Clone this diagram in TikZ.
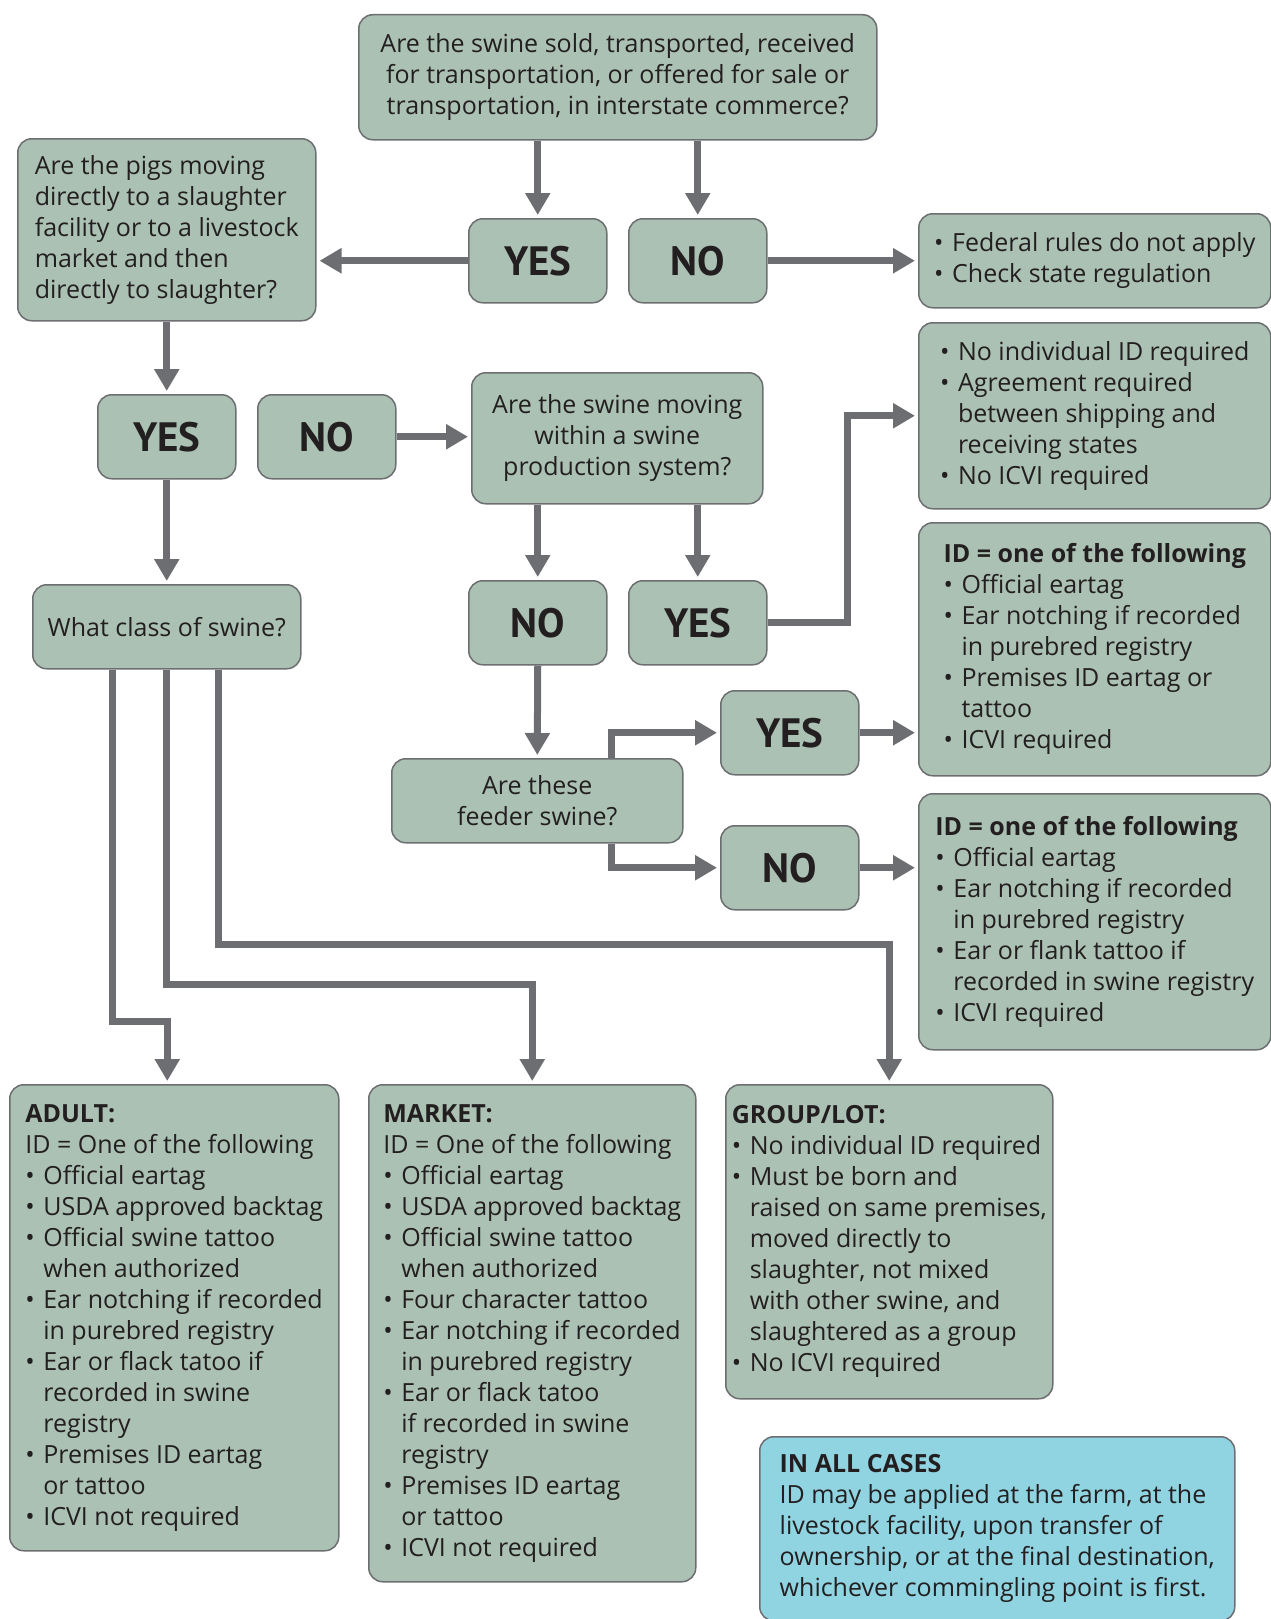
\documentclass[tikz,border=0pt]{standalone}
\usepackage{fontspec}
\setmainfont{Open Sans}
\newfontfamily\answerfont{PT Sans}
\usepackage{tikz}
\usetikzlibrary{arrows.meta,positioning,calc}
\definecolor{Sage}{HTML}{ABC1B4}
\definecolor{Edge}{HTML}{6D6E71}
\definecolor{Cases}{HTML}{90D4E2}
\definecolor{Ink}{HTML}{231F20}
\newcommand\bu{\makebox[18pt][l]{\textbullet}}
\newcommand\ind{\hspace*{18pt}}

\begin{document}
\begin{tikzpicture}[x=1pt, y=-1pt,
  every node/.style={font=\fontsize{25}{31}\selectfont, text=Ink},
  box/.style={fill=Sage, draw=Edge, line width=1.5pt, rounded corners=14pt,
              inner sep=0pt, anchor=north west, align=left},
  answer/.style={box, align=center, font=\answerfont\fontsize{41}{44}\selectfont\bfseries,
                 minimum width=138pt, minimum height=84pt},
  arr/.style={draw=Edge, line width=7pt, -{Triangle[width=24pt,length=22pt]},
              shorten >=3pt}]
  \useasboundingbox (0,0) rectangle (1271,1619);
  % questions
  \node[box, align=center, minimum width=518pt, minimum height=125pt] (top) at (358,14)
    {Are the swine sold, transported, received\\
     for transportation, or offered for sale or\\
     transportation, in interstate commerce?};
  \node[box, minimum width=298pt, minimum height=182pt] (slaughter) at (17,138)
    {Are the pigs moving\\ directly to a slaughter\\ facility or to a livestock\\
     market and then\\ directly to slaughter?};
  \node[box, align=center, minimum width=291pt, minimum height=131pt] (system) at (471,372)
    {Are the swine moving\\ within a swine\\ production system?};
  \node[box, align=center, minimum width=268pt, minimum height=84pt] (class) at (32,584)
    {What class of swine?};
  \node[box, align=center, minimum width=291pt, minimum height=84pt] (feeder) at (391,758)
    {Are these\\ feeder swine?};
  % answers
  \node[answer] (yesA) at (468,218) {YES};
  \node[answer] (noA)  at (628,218) {NO};
  \node[answer] (yesB) at (97,394)  {YES};
  \node[answer] (noB)  at (257,394) {NO};
  \node[answer] (noC)  at (468,580) {NO};
  \node[answer] (yesC) at (628,580) {YES};
  \node[answer] (yesD) at (720,690) {YES};
  \node[answer] (noD)  at (720,825) {NO};
  % outcomes
  \node[box, minimum width=352pt, minimum height=94pt] (federal) at (918,213)
    {\bu Federal rules do not apply\\ \bu Check state regulation};
  \node[box, minimum width=352pt, minimum height=186pt] (agreement) at (918,322)
    {\bu No individual ID required\\ \bu Agreement required\\ \ind between shipping and\\
     \ind receiving states\\ \bu No ICVI required};
  \node[box, minimum width=352pt, minimum height=253pt] (idfeeder) at (918,522)
    {\textbf{ID = one of the following}\\ \bu Official eartag\\ \bu Ear notching if recorded\\
     \ind in purebred registry\\ \bu Premises ID eartag or\\ \ind tattoo\\ \bu ICVI required};
  \node[box, minimum width=352pt, minimum height=256pt] (idother) at (918,793)
    {\textbf{ID = one of the following}\\ \bu Official eartag\\ \bu Ear notching if recorded\\
     \ind in purebred registry\\ \bu Ear or flank tattoo if\\ \ind recorded in swine registry\\
     \bu ICVI required};
  \node[box, minimum width=329pt, minimum height=466pt] (adult) at (9,1084)
    {\textbf{ADULT:}\\ ID = One of the following\\ \bu Official eartag\\ \bu USDA approved backtag\\
     \bu Official swine tattoo\\ \ind when authorized\\ \bu Ear notching if recorded\\
     \ind in purebred registry\\ \bu Ear or flack tatoo if\\ \ind recorded in swine\\
     \ind registry\\ \bu Premises ID eartag\\ \ind or tattoo\\ \bu ICVI not required};
  \node[box, minimum width=327pt, minimum height=497pt] (market) at (368,1084)
    {\textbf{MARKET:}\\ ID = One of the following\\ \bu Official eartag\\ \bu USDA approved backtag\\
     \bu Official swine tattoo\\ \ind when authorized\\ \bu Four character tattoo\\
     \bu Ear notching if recorded\\ \ind in purebred registry\\ \bu Ear or flack tatoo\\
     \ind if recorded in swine\\ \ind registry\\ \bu Premises ID eartag\\ \ind or tattoo\\
     \bu ICVI not required};
  \node[box, minimum width=327pt, minimum height=314pt] (grouplot) at (725,1084)
    {\textbf{GROUP/LOT:}\\ \bu No individual ID required\\ \bu Must be born and\\
     \ind raised on same premises,\\ \ind moved directly to\\ \ind slaughter, not mixed\\
     \ind with other swine, and\\ \ind slaughtered as a group\\ \bu No ICVI required};
  \node[box, fill=Cases, minimum width=475pt, minimum height=184pt] (allcases) at (759,1436)
    {\textbf{IN ALL CASES}\\ ID may be applied at the farm, at the\\ livestock facility, upon transfer of\\
     ownership, or at the final destination,\\ whichever commingling point is first.};
  % connectors
  \draw[arr] (yesA.north |- top.south) -- (yesA.north);
  \draw[arr] (noA.north |- top.south) -- (noA.north);
  \draw[arr] (yesA.west) -- (yesA.west -| slaughter.east);
  \draw[arr] (noA.east) -- (noA.east -| federal.west);
  \draw[arr] (slaughter.south) -- (yesB.north);
  \draw[arr] (yesB.south) -- (class.north);
  \draw[arr] (noB.east) -- (noB.east -| system.west);
  \draw[arr] (noC.north |- system.south) -- (noC.north);
  \draw[arr] (yesC.north |- system.south) -- (yesC.north);
  \draw[arr] (yesC.east) -- ++(80,0) |- (agreement.west);
  \draw[arr] (noC.south) -- (feeder.north);
  \draw[arr] ([xshift=74pt]feeder.north) |- (yesD.west);
  \draw[arr] ([xshift=74pt]feeder.south) |- (noD.west);
  \draw[arr] (yesD.east) -- (yesD.east -| idfeeder.west);
  \draw[arr] (noD.east) -- (noD.east -| idother.west);
  \draw[arr] ([xshift=-54pt]class.south) -- ++(0,352) -| ([xshift=-7pt]adult.north);
  \draw[arr] (class.south) -- ++(0,315) -| (market.north);
  \draw[arr] ([xshift=52pt]class.south) -- ++(0,275) -| (grouplot.north);
\end{tikzpicture}
\end{document}
